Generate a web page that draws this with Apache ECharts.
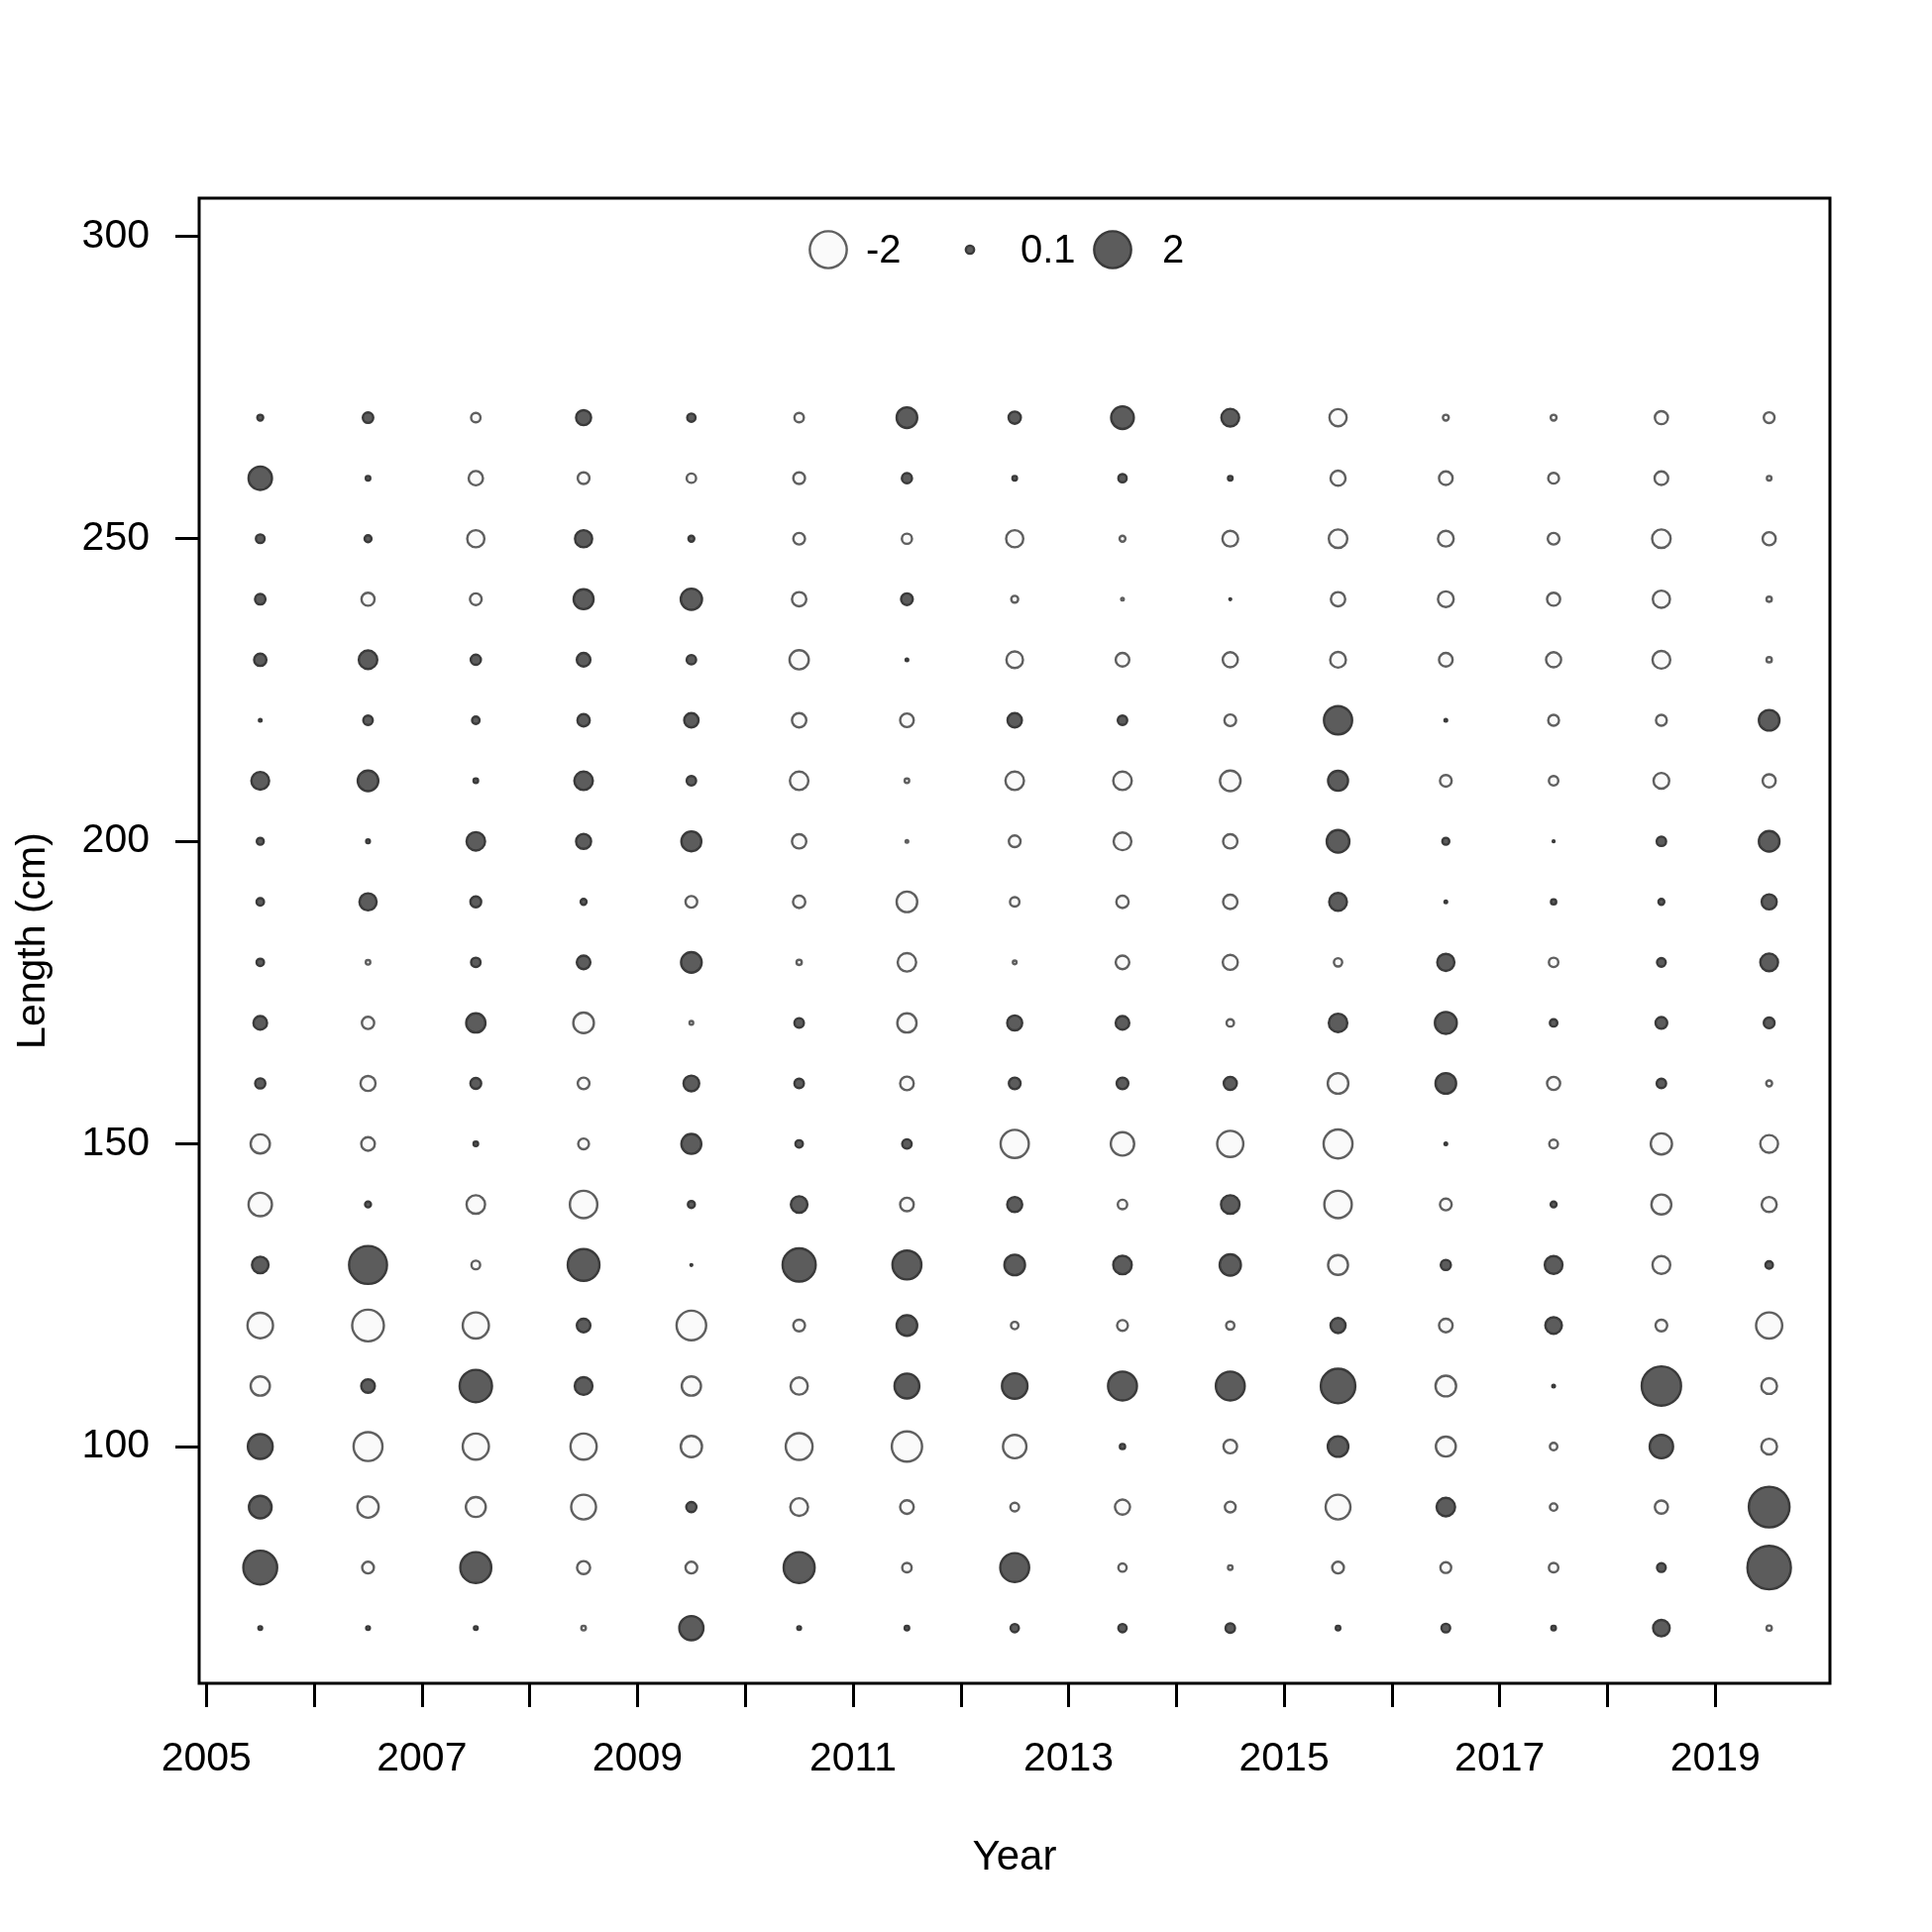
<!DOCTYPE html>
<html>
<head>
<meta charset="utf-8">
<script src="https://cdn.jsdelivr.net/npm/echarts@6/dist/echarts.min.js"></script>
<style>
html,body{margin:0;padding:0;background:#fff;}
#chart{width:1950px;height:1950px;}
</style>
</head>
<body>
<div id="chart"></div>
<script>
// ---- data ----
const yearPos = [2005.5,2006.5,2007.5,2008.5,2009.5,2010.5,2011.5,2012.5,2013.5,2014.5,2015.5,2016.5,2017.5,2018.5,2019.5];
const lengths = [70,80,90,100,110,120,130,140,150,160,170,180,190,200,210,220,230,240,250,260,270];
const xTicks = [2005,2006,2007,2008,2009,2010,2011,2012,2013,2014,2015,2016,2017,2018,2019];
const xLabels = [2005,2007,2009,2011,2013,2015,2017,2019];
const yTicks = [100,150,200,250,300];
const legendValues = [-2, 0.1, 2];

// residuals per year, lengths 70..270
const r2005 = [0.02,1.67,0.75,0.9,-0.54,-0.95,0.4,-0.8,-0.54,0.15,0.27,0.08,0.08,0.07,0.46,0.01,0.22,0.16,0.11,0.8,0.05];
const r2006 = [0.02,-0.2,-0.66,-1.22,0.27,-1.47,2.1,0.05,-0.27,-0.33,-0.22,-0.03,0.43,0.02,0.62,0.13,0.5,-0.25,0.07,0.03,0.16];
const r2007 = [0.02,1.4,-0.58,-1.0,1.53,-1.0,-0.11,-0.5,0.03,0.17,0.54,0.13,0.17,0.5,0.03,0.08,0.15,-0.2,-0.43,-0.3,-0.13];
const r2008 = [-0.03,-0.25,-0.9,-1.0,0.46,0.27,1.47,-1.1,-0.17,-0.2,-0.62,0.27,0.05,0.33,0.5,0.22,0.27,0.58,0.43,-0.2,0.33];
const r2009 = [0.85,-0.2,0.15,-0.66,-0.54,-1.28,0.005,0.07,0.58,0.36,-0.02,0.62,-0.2,0.58,0.13,0.3,0.13,0.66,0.05,-0.13,0.1];
const r2010 = [0.02,1.4,-0.46,-1.05,-0.43,-0.2,1.6,0.4,0.08,0.13,0.13,-0.04,-0.22,-0.3,-0.5,-0.3,-0.54,-0.3,-0.2,-0.2,-0.13];
const r2011 = [0.03,-0.13,-0.27,-1.34,0.9,0.62,1.22,-0.27,0.13,-0.27,-0.54,-0.5,-0.62,-0.01,-0.03,-0.27,0.01,0.2,-0.15,0.15,0.62];
const r2012 = [0.1,1.22,-0.11,-0.8,0.95,-0.08,0.62,0.33,-1.16,0.2,0.33,-0.02,-0.13,-0.2,-0.5,0.3,-0.4,-0.07,-0.43,0.03,0.22];
const r2013 = [0.1,-0.1,-0.33,0.04,1.22,-0.17,0.5,-0.13,-0.8,0.2,0.27,-0.27,-0.22,-0.46,-0.5,0.13,-0.27,-0.01,-0.05,0.1,0.75];
const r2014 = [0.13,-0.03,-0.17,-0.27,1.22,-0.1,0.66,0.5,-1.0,0.25,-0.08,-0.33,-0.3,-0.3,-0.62,-0.2,-0.33,0.005,-0.36,0.03,0.46];
const r2015 = [0.03,-0.2,-0.9,0.62,1.74,0.33,-0.58,-1.1,-1.22,-0.62,0.5,-0.1,0.46,0.75,0.58,1.16,-0.36,-0.3,-0.5,-0.33,-0.43];
const r2016 = [0.11,-0.17,0.5,-0.58,-0.62,-0.27,0.15,-0.2,0.01,0.62,0.7,0.43,0.01,0.07,-0.2,0.01,-0.27,-0.36,-0.36,-0.27,-0.05];
const r2017 = [0.03,-0.13,-0.08,-0.08,0.01,0.4,0.46,0.05,-0.11,-0.25,0.08,-0.13,0.04,0.005,-0.13,-0.17,-0.33,-0.25,-0.2,-0.17,-0.05];
const r2018 = [0.4,0.11,-0.25,0.8,2.26,-0.2,-0.46,-0.58,-0.66,0.13,0.2,0.11,0.05,0.13,-0.36,-0.17,-0.46,-0.43,-0.5,-0.27,-0.25];
const r2019 = [-0.04,2.76,2.42,-0.36,-0.36,-1.0,0.08,-0.33,-0.46,-0.05,0.17,0.46,0.33,0.62,-0.25,0.62,-0.04,-0.04,-0.25,-0.03,-0.17];
const residuals = [r2005,r2006,r2007,r2008,r2009,r2010,r2011,r2012,r2013,r2014,r2015,r2016,r2017,r2018,r2019];

// ---- styles ----
const POS_FILL = '#5c5c5c', POS_STROKE = '#3a3a3a';
const NEG_FILL = '#fafafa', NEG_STROKE = '#5f5f5f';
const STROKE_W = 2.4;
const FONT = '"Liberation Sans", Arial, sans-serif';
const sizeOf = v => 26.4 * Math.sqrt(Math.abs(v));

const posData = [], negData = [];
residuals.forEach((col, i) => {
  col.forEach((v, j) => {
    (v >= 0 ? posData : negData).push([yearPos[i], lengths[j], v]);
  });
});

const chart = echarts.init(document.getElementById('chart'), null, {renderer: 'canvas'});

// legend graphic (sizes from the same size function)
const legendX = [836, 979, 1123];
const legendTextX = [874, 1030, 1173];
const legendY = 252;
const graphics = [];
legendValues.forEach((v, k) => {
  graphics.push({
    type: 'circle',
    shape: {cx: legendX[k], cy: legendY, r: sizeOf(v) / 2},
    style: {fill: v >= 0 ? POS_FILL : NEG_FILL, stroke: v >= 0 ? POS_STROKE : NEG_STROKE, lineWidth: STROKE_W},
    z: 10
  });
  graphics.push({
    type: 'text',
    x: legendTextX[k], y: legendY + 2,
    style: {text: String(v), fill: '#000', font: '40px ' + FONT, verticalAlign: 'middle', align: 'left'},
    z: 10
  });
});

const option = {
  animation: false,
  backgroundColor: '#fff',
  grid: {left: 201, right: 103, top: 200, bottom: 251, show: true, borderColor: '#000', borderWidth: 3, backgroundColor: 'transparent'},
  xAxis: {
    type: 'value', min: 2004.933, max: 2020.064,
    name: 'Year', nameLocation: 'middle', nameGap: 155,
    nameTextStyle: {fontSize: 42, color: '#000', fontFamily: FONT},
    axisLine: {show: false},
    axisTick: {show: true, length: 24, lineStyle: {color: '#000', width: 3}, customValues: xTicks},
    axisLabel: {show: true, margin: 56, fontSize: 41, color: '#000', fontFamily: FONT, customValues: xLabels,
      formatter: v => String(v)},
    splitLine: {show: false}
  },
  yAxis: {
    type: 'value', min: 60.88, max: 306.27,
    name: 'Length (cm)', nameLocation: 'middle', nameGap: 147,
    nameTextStyle: {fontSize: 41, color: '#000', fontFamily: FONT},
    axisLine: {show: false},
    axisTick: {show: true, length: 24, lineStyle: {color: '#000', width: 3}, customValues: yTicks},
    axisLabel: {show: true, margin: 50, fontSize: 41, color: '#000', fontFamily: FONT, customValues: yTicks,
      verticalAlign: 'middle', padding: [8, 0, 0, 0], formatter: v => String(v)},
    splitLine: {show: false}
  },
  series: [
    {
      type: 'scatter', name: 'negative', data: negData,
      symbol: 'circle', symbolSize: d => sizeOf(d[2]),
      itemStyle: {color: NEG_FILL, borderColor: NEG_STROKE, borderWidth: STROKE_W, opacity: 1},
      emphasis: {disabled: true}
    },
    {
      type: 'scatter', name: 'positive', data: posData,
      symbol: 'circle', symbolSize: d => sizeOf(d[2]),
      itemStyle: {color: POS_FILL, borderColor: POS_STROKE, borderWidth: STROKE_W, opacity: 1},
      emphasis: {disabled: true}
    }
  ],
  graphic: graphics
};
chart.setOption(option);
</script>
</body>
</html>
